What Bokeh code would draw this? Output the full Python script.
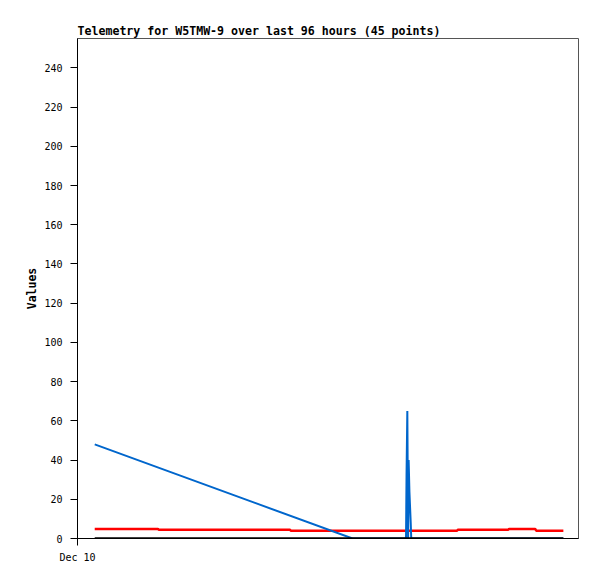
from bokeh.plotting import figure
from bokeh.models import Range1d, FixedTicker
from bokeh.embed import file_html
from bokeh.resources import INLINE

# hours since Dec 10 00:00
black_t = [3.3, 93.1]
black_v = [0, 0]

red_t = [3.3, 15.4, 15.6, 40.7, 40.9, 72.7, 72.9, 82.5, 82.7, 87.7, 87.9, 93.1]
red_v = [4.9, 4.9, 4.4, 4.4, 4.0, 4.0, 4.4, 4.4, 4.9, 4.9, 4.0, 4.0]

blue_t = [3.3, 52.7, 62.95, 63.05, 63.2, 63.35, 63.45, 63.6, 63.85, 63.95, 93.1]
blue_v = [48, 0, 0, 32, 65, 0, 40, 24, 8, 0, 0]

y_ticks = [0, 20, 40, 60, 80, 100, 120, 140, 160, 180, 200, 220, 240]
x_ticks = [0]
x_labels = {0: "Dec 10"}

p = figure(width=589, height=571, output_backend="svg", toolbar_location=None,
           x_range=Range1d(0, 96), y_range=Range1d(0, 255),
           title="Telemetry for W5TMW-9 over last 96 hours (45 points)",
           min_border_left=77, min_border_top=38, min_border_right=11, min_border_bottom=33)

p.title.text_font = "DejaVu Sans Mono"
p.title.text_font_size = "11.6px"
p.title.text_font_style = "bold"
p.title.text_color = "black"
p.title.offset = 0
p.title.standoff = 2

p.xgrid.visible = False
p.ygrid.visible = False
p.outline_line_color = "#555555"
p.outline_line_width = 1
p.background_fill_color = "white"
p.border_fill_color = "white"

p.yaxis.ticker = FixedTicker(ticks=y_ticks)
p.xaxis.ticker = FixedTicker(ticks=x_ticks)
p.xaxis.major_label_overrides = x_labels
for ax in (p.xaxis, p.yaxis):
    ax.minor_tick_line_color = None
    ax.major_tick_in = 0
    ax.major_tick_out = 7
    ax.major_label_text_font = "DejaVu Sans Mono"
    ax.major_label_text_font_size = "10px"
    ax.major_label_text_color = "black"
    ax.axis_line_color = "black"
    ax.major_tick_line_color = "black"
p.yaxis.major_label_standoff = 8
p.xaxis.major_label_standoff = 6
p.yaxis.axis_label = "Values"
p.yaxis.axis_label_text_font = "DejaVu Sans Mono"
p.yaxis.axis_label_text_font_size = "11.5px"
p.yaxis.axis_label_text_font_style = "bold"
p.yaxis.axis_label_text_color = "black"
p.yaxis.axis_label_standoff = 2

p.line(red_t, red_v, line_color="#ff0000", line_width=2.5)
p.line(blue_t, blue_v, line_color="#0066cc", line_width=2)
p.line(black_t, black_v, line_color="black", line_width=2.5)

open("out.html", "w").write(file_html(p, INLINE))
